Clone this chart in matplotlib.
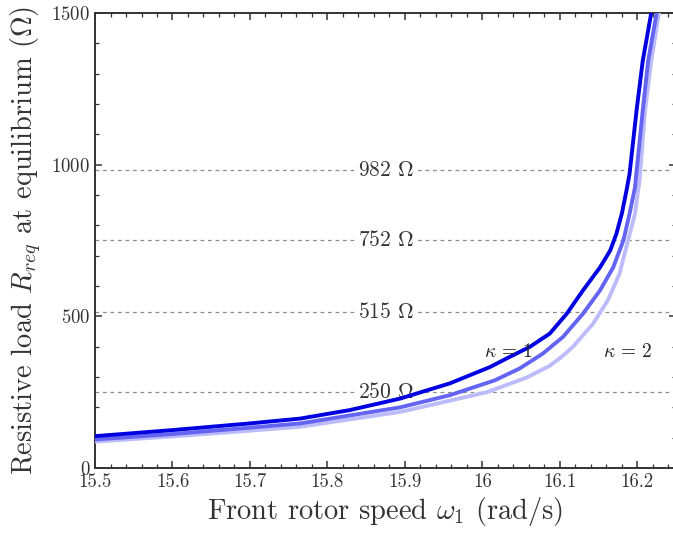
import numpy as np
import matplotlib
matplotlib.use("Agg")
import matplotlib.pyplot as plt
from matplotlib.ticker import MultipleLocator

plt.rcParams['font.family'] = 'serif'
plt.rcParams['font.serif'] = ['cmr10']
plt.rcParams['mathtext.fontset'] = 'cm'
plt.rcParams['axes.formatter.use_mathtext'] = True

# equilibrium load vs front rotor speed, three curves
w_a = [15.50, 15.60, 15.70, 15.765, 15.829, 15.894, 15.958, 15.984, 16.010, 16.035, 16.061, 16.087,
       16.109, 16.130, 16.152, 16.165, 16.173, 16.180, 16.186, 16.190, 16.199, 16.207, 16.218]
R_a = [105, 125, 147, 163, 191, 229, 279, 306, 333, 366, 399, 443,
       509, 586, 662, 717, 772, 838, 914, 970, 1178, 1342, 1500]

w_b = [15.50, 15.60, 15.70, 15.765, 15.894, 15.958, 16.016, 16.048, 16.078, 16.104, 16.130,
       16.152, 16.169, 16.182, 16.190, 16.197, 16.207, 16.214, 16.225]
R_b = [94, 112, 133, 147, 200, 240, 289, 328, 377, 432, 509,
       586, 662, 750, 838, 925, 1178, 1342, 1500]

w_c = [15.50, 15.60, 15.70, 15.765, 15.894, 15.958, 16.006, 16.057, 16.087, 16.104, 16.117, 16.143,
       16.162, 16.177, 16.188, 16.197, 16.203, 16.210, 16.218, 16.228]
R_c = [87, 104, 123, 136, 185, 222, 250, 298, 337, 370, 400, 476,
       553, 640, 750, 838, 950, 1178, 1342, 1500]

ref_levels = [982, 752, 515, 250]

fig = plt.figure(figsize=(6.73, 5.34), dpi=100)
ax = fig.add_axes([0.1412, 0.1236, 0.8633, 0.852])

for lev in ref_levels:
    ax.axhline(lev, color='#8c8c8c', lw=0.9, ls=(0, (3, 3)), zorder=1)
    ax.text(15.876, lev, '%d $\\Omega$' % lev, fontsize=15.5, ha='center', va='center',
            color='#333333', zorder=2,
            bbox=dict(facecolor='white', edgecolor='none', pad=1.5))

ax.plot(w_c, R_c, color='#bcbcfc', lw=2.8, zorder=3, solid_joinstyle='round')
ax.plot(w_b, R_b, color='#6464f2', lw=2.8, zorder=4, solid_joinstyle='round')
ax.plot(w_a, R_a, color='#0000e0', lw=2.8, zorder=5, solid_joinstyle='round')

ax.text(16.034, 381, r'$\kappa\,=\,1$', fontsize=14, ha='center', va='center', color='#222222', zorder=6)
ax.text(16.188, 381, r'$\kappa\,=\,2$', fontsize=14, ha='center', va='center', color='#222222', zorder=6)

ax.set_xlim(15.5, 16.25)
ax.set_ylim(0, 1500)
ax.set_xticks([15.5, 15.6, 15.7, 15.8, 15.9, 16.0, 16.1, 16.2])
ax.set_xticklabels(['15.5', '15.6', '15.7', '15.8', '15.9', '16', '16.1', '16.2'])
ax.set_yticks([0, 500, 1000, 1500])
ax.xaxis.set_minor_locator(MultipleLocator(0.02))
ax.yaxis.set_minor_locator(MultipleLocator(100))
ax.tick_params(which='both', direction='in', top=True, right=True, labelsize=13.5, colors='#333333')
ax.tick_params(which='major', length=5, width=1.1)
ax.tick_params(which='minor', length=3, width=0.9)
for s in ax.spines.values():
    s.set_color('#333333')
    s.set_linewidth(1.4)

ax.set_xlabel(r'Front rotor speed $\omega_1$ (rad/s)', fontsize=20.5, color='#333333', labelpad=3)
ax.set_ylabel(r'Resistive load $R_{req}$ at equilibrium ($\Omega$)', fontsize=20.5, color='#333333', labelpad=6)

fig.savefig('out.png', dpi=100)
